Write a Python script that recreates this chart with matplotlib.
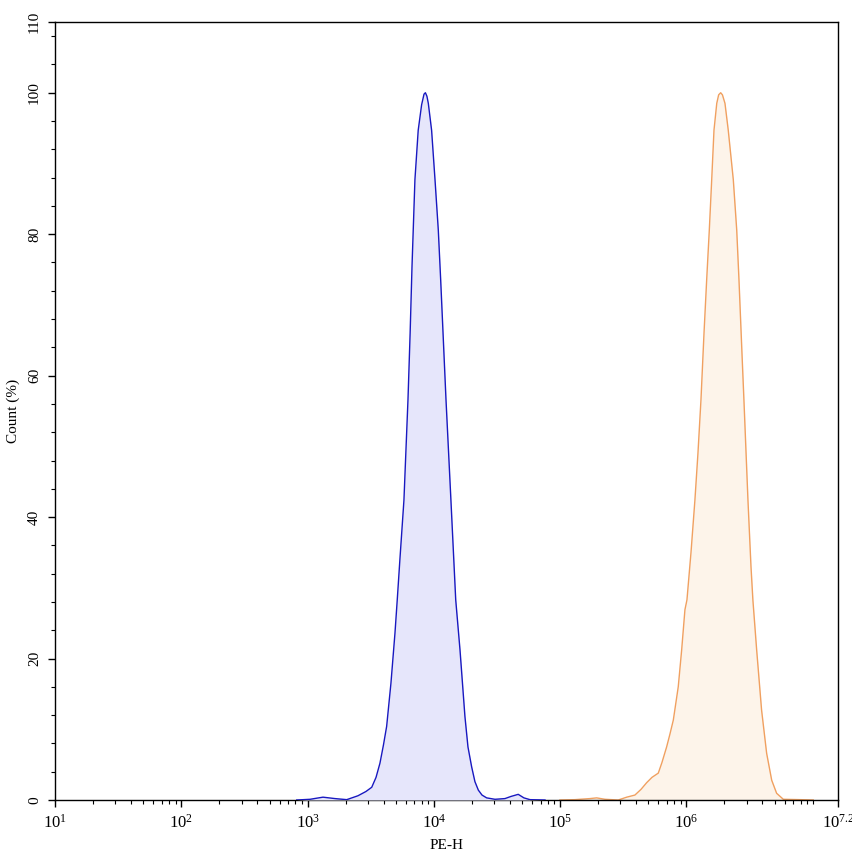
import numpy as np
import matplotlib
matplotlib.use("Agg")
import matplotlib.pyplot as plt
from matplotlib.ticker import FixedLocator, FixedFormatter, NullFormatter

plt.rcParams['font.family'] = ['Liberation Serif', 'DejaVu Serif']
plt.rcParams['mathtext.fontset'] = 'custom'
plt.rcParams['mathtext.rm'] = 'Liberation Serif'
plt.rcParams['mathtext.it'] = 'Liberation Serif:italic'

# Data (log10 of PE-H, Count %)
blue_log_pe = [2.914, 3.019, 3.122, 3.217, 3.310, 3.399, 3.462, 3.508, 3.542, 3.573,
               3.601, 3.626, 3.660, 3.692, 3.710, 3.731, 3.763, 3.795, 3.812, 3.827,
               3.850, 3.876, 3.903, 3.922, 3.933, 3.945, 3.956, 3.982, 4.009, 4.035,
               4.054, 4.096, 4.135, 4.173, 4.207, 4.246, 4.270, 4.299, 4.325, 4.352,
               4.381, 4.418, 4.484, 4.563, 4.610, 4.668, 4.713, 4.761, 4.880]
blue_count = [0.0, 0.1, 0.4, 0.2, 0.05, 0.6, 1.2, 1.8, 3.2, 5.2,
              7.8, 10.4, 16.5, 23.6, 28.3, 34.0, 42.4, 56.6, 66.0, 75.5,
              87.7, 94.7, 98.3, 99.8, 100.0, 99.5, 98.5, 94.7, 87.7, 80.6,
              73.5, 56.6, 42.4, 28.3, 21.2, 11.8, 7.5, 4.7, 2.6, 1.4,
              0.7, 0.3, 0.1, 0.2, 0.5, 0.8, 0.3, 0.05, 0.0]

orange_log_pe = [4.998, 5.117, 5.236, 5.289, 5.355, 5.460, 5.527, 5.592, 5.640, 5.685,
                 5.727, 5.777, 5.806, 5.843, 5.869, 5.896, 5.935, 5.962, 5.988, 6.004,
                 6.036, 6.067, 6.091, 6.115, 6.139, 6.160, 6.181, 6.200, 6.218, 6.240,
                 6.255, 6.271, 6.285, 6.305, 6.331, 6.371, 6.398, 6.416, 6.440, 6.455,
                 6.487, 6.511, 6.526, 6.556, 6.595, 6.635, 6.675, 6.714, 6.767, 6.899, 7.004]
orange_count = [0.0, 0.05, 0.2, 0.3, 0.1, 0.0, 0.4, 0.7, 1.5, 2.45,
                3.2, 3.8, 5.3, 7.5, 9.3, 11.3, 16.0, 21.2, 26.9, 28.3,
                35.0, 42.4, 49.0, 56.6, 66.0, 73.5, 80.6, 87.7, 94.7, 98.5,
                99.7, 100.0, 99.7, 98.5, 94.7, 87.7, 80.6, 73.5, 63.0, 56.6,
                42.4, 33.0, 28.3, 21.2, 12.7, 6.6, 2.8, 0.95, 0.1, 0.05, 0.0]

x_major_exp = [1, 2, 3, 4, 5, 6, 7.2]
x_major_labels = [r'$10^{1}$', r'$10^{2}$', r'$10^{3}$', r'$10^{4}$', r'$10^{5}$',
                  r'$10^{6}$', r'$10^{7.2}$']
y_major = [0, 20, 40, 60, 80, 100, 110]

fig = plt.figure(figsize=(8.53, 8.56), dpi=100)
ax = fig.add_axes([55/853, 56/856, 783/853, 778/856])

bx = 10 ** np.array(blue_log_pe)
ox = 10 ** np.array(orange_log_pe)

ax.fill_between(ox, orange_count, 0, color='#fdf4ea', lw=0, zorder=1)
ax.plot(ox, orange_count, color='#f0a060', lw=1.0, zorder=2)
ax.fill_between(bx, blue_count, 0, color='#e6e6fb', lw=0, zorder=3)
ax.plot(bx, blue_count, color='#1818c0', lw=1.0, zorder=4)

ax.set_xscale('log')
ax.set_xlim(10, 10 ** 7.2)
ax.set_ylim(0, 110)

ax.xaxis.set_major_locator(FixedLocator([10 ** e for e in x_major_exp]))
ax.xaxis.set_major_formatter(FixedFormatter(x_major_labels))
minor_x = [k * 10 ** n for n in range(1, 7) for k in range(2, 10)] + [1e7]
ax.xaxis.set_minor_locator(FixedLocator(minor_x))
ax.xaxis.set_minor_formatter(NullFormatter())

ax.yaxis.set_major_locator(FixedLocator(y_major))
ax.yaxis.set_major_formatter(FixedFormatter([str(v) for v in y_major]))
ax.yaxis.set_minor_locator(FixedLocator([v for v in range(0, 110, 4) if v % 20 != 0]))
ax.yaxis.set_minor_formatter(NullFormatter())

ax.tick_params(axis='both', which='major', direction='out', length=5, width=1,
               colors='black')
ax.tick_params(axis='x', which='major', labelsize=12, pad=5)
ax.tick_params(axis='y', which='major', labelsize=11, labelrotation=90, pad=5)
ax.tick_params(axis='both', which='minor', direction='out', length=3, width=0.8)
for lab in ax.get_yticklabels():
    lab.set_verticalalignment('center')

for s in ax.spines.values():
    s.set_linewidth(1.0)

ax.set_xlabel('PE-H', fontsize=11, labelpad=5)
ax.set_ylabel('Count (%)', fontsize=11, labelpad=6)

fig.savefig('out.png', dpi=100)
